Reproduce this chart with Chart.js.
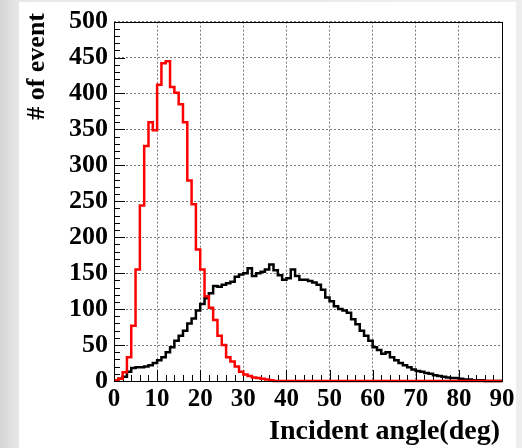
<!DOCTYPE html>
<html>
<head>
<meta charset="utf-8">
<script src="https://cdn.jsdelivr.net/npm/chart.js@4.4.1/dist/chart.umd.min.js"></script>
<style>
  html, body { margin: 0; padding: 0; }
  body {
    width: 522px; height: 448px; overflow: hidden; position: relative;
    background: linear-gradient(to right, #d5d5d5 0px, #e8e8e8 19px, #eeeeee 100%);
  }
  #pad { position: absolute; left: 19px; top: 2px; width: 497px; height: 446px; background: #fff; }
  #plot { position: absolute; left: 0; top: 0; }
</style>
</head>
<body>
<div id="pad"></div>
<canvas id="plot" width="522" height="448"></canvas>
<script>
// histogram binning: 1 degree bins from 0 to 90
const X_MIN = 0;
const X_MAX = 90;
const BIN_W = 1;
const Y_MAX = 500;

// tick labels
const xTickValues = [0, 10, 20, 30, 40, 50, 60, 70, 80, 90];
const yTickValues = [0, 50, 100, 150, 200, 250, 300, 350, 400, 450, 500];

// counts per bin (red: narrow peak, black: broad distribution)
const redCounts = [
  1, 3, 12, 33, 77, 155, 244, 327, 360, 349,
  412, 442, 445, 409, 401, 385, 360, 279, 246, 183,
  155, 118, 102, 85, 63, 50, 33, 27, 20, 13,
  9, 7, 5, 4, 3, 2, 1, 0, 0, 0,
  0, 0, 0, 0, 0, 0, 0, 0, 0, 0,
  0, 0, 0, 0, 0, 0, 0, 0, 0, 0,
  0, 0, 0, 0, 0, 0, 0, 0, 0, 0,
  0, 0, 0, 0, 0, 0, 0, 0, 0, 0,
  0, 0, 0, 0, 0, 0, 0, 0, 0, 0
];
const blackCounts = [
  1, 3, 6, 13, 18, 19, 19, 20, 22, 25,
  29, 33, 40, 47, 56, 63, 70, 80, 87, 98,
  107, 115, 122, 132, 131, 134, 136, 138, 145, 148,
  150, 157, 146, 150, 152, 155, 162, 154, 147, 141,
  143, 155, 146, 141, 141, 139, 137, 134, 127, 116,
  111, 104, 100, 98, 95, 86, 79, 70, 63, 56,
  47, 43, 38, 40, 33, 29, 25, 22, 19, 16,
  14, 13, 11, 10, 8, 7, 6, 5, 4, 4,
  3, 2, 2, 1, 1, 1, 0, 0, 0, 0
];

const FONT = '"Liberation Serif", "Times New Roman", serif';

// step outline: one point per lower bin edge plus the closing edge
const toSteps = counts => counts
  .map((c, i) => ({ x: X_MIN + i * BIN_W, y: c }))
  .concat([{ x: X_MIN + counts.length * BIN_W, y: counts[counts.length - 1] }]);

// ROOT-like frame: ticks inside the box, plus the axis titles
const rootFrame = {
  id: 'rootFrame',
  beforeDatasetsDraw(chart) {
    const { ctx, chartArea: a, scales: { x, y } } = chart;
    ctx.save();
    ctx.strokeStyle = '#000';
    ctx.lineWidth = 1;
    ctx.beginPath();
    for (let v = X_MIN; v <= X_MAX; v += 2) {
      const px = Math.round(x.getPixelForValue(v)) + 0.5;
      const len = v % 10 === 0 ? 11 : 6;
      ctx.moveTo(px, a.bottom);
      ctx.lineTo(px, a.bottom - len);
    }
    for (let v = 0; v <= Y_MAX; v += 10) {
      const py = Math.round(y.getPixelForValue(v)) + 0.5;
      const len = v % 50 === 0 ? 11 : 6;
      ctx.moveTo(a.left, py);
      ctx.lineTo(a.left + len, py);
    }
    ctx.stroke();
    ctx.restore();
  },
  afterDraw(chart) {
    const { ctx, chartArea: a } = chart;
    ctx.save();
    ctx.strokeStyle = '#000';
    ctx.lineWidth = 1;
    ctx.strokeRect(Math.round(a.left) + 0.5, Math.round(a.top) + 0.5,
      Math.round(a.right - a.left), Math.round(a.bottom - a.top));

    ctx.fillStyle = '#000';
    ctx.font = 'bold 28px ' + FONT;
    ctx.textAlign = 'right';
    ctx.textBaseline = 'alphabetic';
    ctx.fillText('Incident angle(deg)', 500, 439);

    ctx.translate(37, 13);
    ctx.rotate(-Math.PI / 2);
    ctx.font = 'bold 26px ' + FONT;
    ctx.textAlign = 'right';
    ctx.textBaseline = 'middle';
    ctx.fillText('# of event', 0, 0);
    ctx.restore();
  }
};

new Chart(document.getElementById('plot'), {
  type: 'line',
  data: {
    datasets: [
      {
        label: 'red',
        data: toSteps(redCounts),
        borderColor: '#ff0000',
        borderWidth: 2.5,
        stepped: 'before',
        pointRadius: 0,
        fill: false,
        clip: 4
      },
      {
        label: 'black',
        data: toSteps(blackCounts),
        borderColor: '#000000',
        borderWidth: 2.5,
        stepped: 'before',
        pointRadius: 0,
        fill: false,
        clip: 4
      }
    ]
  },
  options: {
    responsive: false,
    animation: false,
    layout: { padding: { left: 0, top: 17, right: 20, bottom: 0 } },
    plugins: { legend: { display: false }, tooltip: { enabled: false } },
    scales: {
      x: {
        type: 'linear',
        min: X_MIN,
        max: X_MAX,
        afterFit: s => { s.height = 67; },
        afterBuildTicks: s => { s.ticks = xTickValues.map(v => ({ value: v })); },
        grid: { color: '#7a7a7a', lineWidth: 1, drawTicks: false },
        border: { display: false, dash: [2, 2] },
        ticks: {
          padding: 4,
          color: '#000',
          maxRotation: 0,
          autoSkip: false,
          font: { family: FONT, size: 25, weight: 'bold' }
        }
      },
      y: {
        type: 'linear',
        min: 0,
        max: Y_MAX,
        afterFit: s => { s.width = 114; },
        afterBuildTicks: s => { s.ticks = yTickValues.map(v => ({ value: v })); },
        grid: { color: '#7a7a7a', lineWidth: 1, drawTicks: false },
        border: { display: false, dash: [2, 2] },
        ticks: {
          padding: 6,
          color: '#000',
          autoSkip: false,
          font: { family: FONT, size: 26, weight: 'bold' }
        }
      }
    }
  },
  plugins: [rootFrame]
});
</script>
</body>
</html>
